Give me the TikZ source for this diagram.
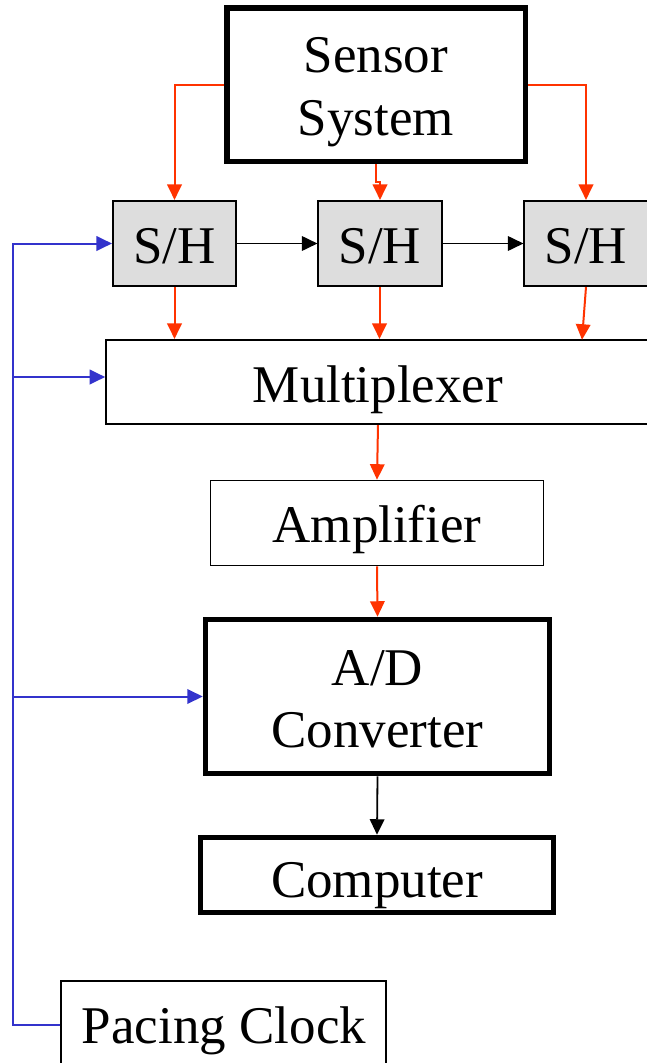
\documentclass[tikz,border=0pt]{standalone}
\usepackage{fontspec}
\setmainfont{Liberation Serif}
\usetikzlibrary{arrows.meta}
\definecolor{sigred}{HTML}{FF3300}
\definecolor{clkblue}{HTML}{3333CC}
\definecolor{shgray}{HTML}{DDDDDD}
\begin{document}
\begin{tikzpicture}[x=1pt,y=-1pt,
  plainbox/.style={draw=black,line width=1.6pt,rectangle,inner sep=0pt},
  heavybox/.style={draw=black,line width=5.5pt,rectangle,inner sep=0pt},
  shbox/.style={plainbox,fill=shgray},
  lbl/.style={inner sep=0pt,anchor=base,font=\fontsize{53}{62}\selectfont},
  tip/.style={-{Triangle[width=14.5pt,length=15.5pt]}},
  redarr/.style={tip,draw=sigred,line width=2pt},
  bluearr/.style={tip,draw=clkblue,line width=2pt},
  blackarr/.style={tip,draw=black,line width=1.8pt}]
\useasboundingbox (0,0) rectangle (646,1063);

% blocks
\node[heavybox,minimum width=298.5pt,minimum height=153.5pt] (sensor) at (376,84.5) {};
\node[shbox,minimum width=123.5pt,minimum height=85.5pt] (sh1) at (174.5,243.5) {};
\node[shbox,minimum width=123.5pt,minimum height=85.5pt] (sh2) at (380,243.5) {};
\node[shbox,minimum width=123.5pt,minimum height=85.5pt] (sh3) at (586,243.5) {};
\node[plainbox,minimum width=544pt,minimum height=84.5pt] (mux) at (378,382) {};
\node[plainbox,minimum width=333pt,minimum height=85pt] (amp) at (377,523) {};
\node[heavybox,minimum width=344pt,minimum height=154pt] (adc) at (377.5,696.5) {};
\node[heavybox,minimum width=353pt,minimum height=75pt] (comp) at (377,875) {};
\node[plainbox,minimum width=325pt,minimum height=88pt] (clock) at (223.75,1024.75) {};

% block texts
\node[lbl] (sensorA) at (376,72) {Sensor};
\node[lbl] (sensorB) at (376,135) {System};
\node[lbl] (sh1t) at (174.5,263) {S/H};
\node[lbl] (sh2t) at (380,263) {S/H};
\node[lbl] (sh3t) at (586,263) {S/H};
\node[lbl] (muxt) at (378,402) {Multiplexer};
\node[lbl] (ampt) at (377,542) {Amplifier};
\node[lbl] (adcA) at (377.5,685) {A/D};
\node[lbl] (adcB) at (377.5,747) {Converter};
\node[lbl] (compt) at (377,897) {Computer};
\node[lbl] (clockt) at (224,1043) {Pacing Clock};

% sensor outputs to the sample-and-hold stages
\draw[redarr] (sensor.west) -| (sh1.north);
\draw[redarr] (sensor.east) -| (sh3.north);
\coordinate (jog) at (376,182);
\draw[redarr] (sensor.south) -- (jog) -| (sh2.north);

% sample-and-hold chain
\draw[blackarr] (sh1.east) -- (sh2.west);
\draw[blackarr] (sh2.east) -- (sh3.west);

% sample-and-hold outputs into the multiplexer
\draw[redarr] (sh1.south) -- (sh1.south |- mux.north);
\draw[redarr] ([xshift=-0.5pt]sh2.south) -- ([xshift=-0.5pt]sh2.south |- mux.north);
\coordinate (mux3) at (582,339.75);
\draw[redarr] (sh3.south) -- (mux3);

% signal path
\draw[redarr] (mux.south) -- (amp.north);
\draw[redarr] (amp.south) -- (adc.north);
\draw[blackarr] (adc.south) -- (comp.north);

% pacing clock distribution
\coordinate (bustop) at (13,243.5);
\coordinate (muxin) at ([yshift=5pt]mux.west);
\draw[bluearr] (clock.west) -| (bustop) -- (sh1.west);
\draw[bluearr] (bustop |- muxin) -- (muxin);
\draw[bluearr] (bustop |- adc.west) -- (adc.west);
\end{tikzpicture}
\end{document}
